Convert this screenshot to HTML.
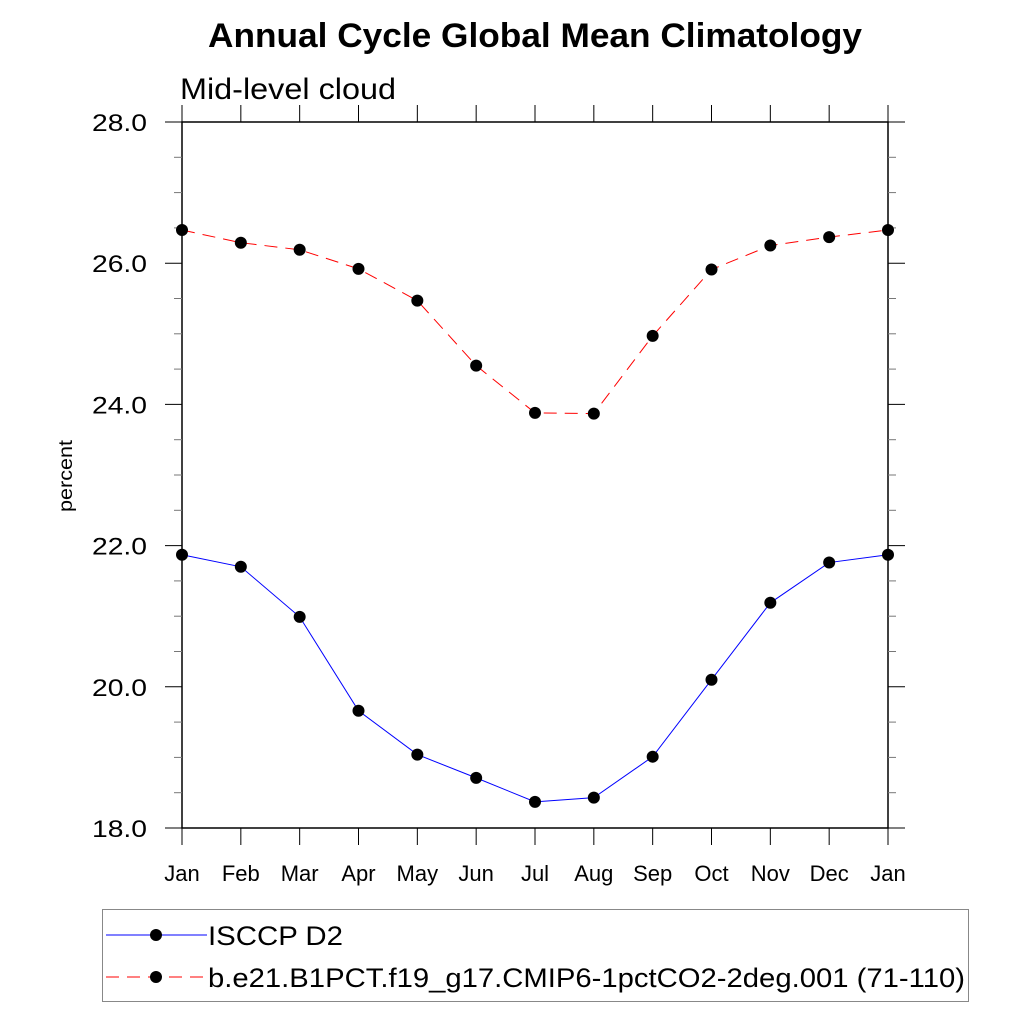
<!DOCTYPE html>
<html><head><meta charset="utf-8"><style>
body{margin:0;background:#fff;}
svg{display:block;font-family:"Liberation Sans",Arial,sans-serif;}
</style></head><body>
<svg id="chart" width="1024" height="1024" viewBox="0 0 1024 1024">
<text x="208" y="47" font-size="34" font-weight="bold" textLength="654" lengthAdjust="spacingAndGlyphs">Annual Cycle Global Mean Climatology</text>
<text x="180" y="99" font-size="30" textLength="216" lengthAdjust="spacingAndGlyphs">Mid-level cloud</text>
<text transform="translate(72,476) rotate(-90)" text-anchor="middle" font-size="19" textLength="72" lengthAdjust="spacingAndGlyphs">percent</text>
<g id="axes"></g>
<g id="series"></g>
<rect x="102.5" y="909.5" width="866" height="92" fill="none" stroke="#888" stroke-width="1"/>
<g>
<line x1="106" y1="935" x2="207" y2="935" stroke="#0000ff" stroke-width="1"/>
<circle cx="156" cy="935" r="6" fill="#000"/>
<text x="208" y="945" font-size="27" textLength="135" lengthAdjust="spacingAndGlyphs">ISCCP D2</text>
</g>
<g>
<line x1="106" y1="977" x2="207" y2="977" stroke="#ff0000" stroke-width="1" stroke-dasharray="13,8"/>
<circle cx="156" cy="977" r="6" fill="#000"/>
<text x="208" y="987" font-size="27" textLength="757" lengthAdjust="spacingAndGlyphs">b.e21.B1PCT.f19_g17.CMIP6-1pctCO2-2deg.001 (71-110)</text>
</g>
</svg>
<script>
const months = ["Jan","Feb","Mar","Apr","May","Jun","Jul","Aug","Sep","Oct","Nov","Dec","Jan"];
const isccpValues = [21.87,21.70,20.99,19.66,19.04,18.71,18.37,18.43,19.01,20.10,21.19,21.76,21.87];
const modelValues = [26.47,26.29,26.19,25.92,25.47,24.55,23.88,23.87,24.97,25.91,26.25,26.37,26.47];
const yTicks = [18,20,22,24,26,28];
const yTickLabels = ["18.0","20.0","22.0","24.0","26.0","28.0"];

const NS="http://www.w3.org/2000/svg";
const X0=182,X1=888,Y0=828,Y1=122,YMIN=18,YMAX=28;
function xs(i){return X0+(X1-X0)*i/(months.length-1);}
function ys(v){return Y0-(v-YMIN)/(YMAX-YMIN)*(Y0-Y1);}
function mk(tag,attrs,parent){const e=document.createElementNS(NS,tag);for(const k in attrs)e.setAttribute(k,attrs[k]);parent.appendChild(e);return e;}
const axes=document.getElementById('axes');
let el;
el=mk('rect',{x:X0,y:Y1,width:X1-X0,height:Y0-Y1,fill:'none',stroke:'#000','stroke-width':1.5},axes);


months.forEach((m,i)=>{
  const x=xs(i);
  el=mk('line',{x1:x,y1:Y0,x2:x,y2:Y0+17,stroke:'#000','stroke-width':1},axes);
  
  
  el=mk('line',{x1:x,y1:Y1,x2:x,y2:Y1-17,stroke:'#000','stroke-width':1},axes);
  
  
  el=mk('text',{x:x,y:881,'text-anchor':'middle','font-size':22},axes);
  el.textContent=m;
  
  
});
for(let v=YMIN;v<=YMAX+1e-9;v+=0.5){
  const y=ys(v);
  const major=Math.abs(v-Math.round(v/2)*2)<1e-9;
  const len=major?17:8;
  el=mk('line',{x1:X0-len,y1:y,x2:X0,y2:y,stroke:major?'#000':'#777','stroke-width':1},axes);
  
  
  el=mk('line',{x1:X1,y1:y,x2:X1+len,y2:y,stroke:major?'#000':'#777','stroke-width':1},axes);
  
  
}
yTicks.forEach((v,i)=>{
  el=mk('text',{x:92,y:ys(v)+9,'font-size':24,textLength:55,lengthAdjust:'spacingAndGlyphs'},axes);
  el.textContent=yTickLabels[i];
  
  
});
const series=document.getElementById('series');
function draw(vals,color,dash,name){
  const pts=vals.map((v,i)=>xs(i)+','+ys(v)).join(' ');
  el=mk('polyline',{points:pts,fill:'none',stroke:color,'stroke-width':1,'stroke-dasharray':dash},series);
  
  
  vals.forEach((v,i)=>{
    el=mk('circle',{cx:xs(i),cy:ys(v),r:6,fill:'#000'},series);
    
    
  });
}
draw(isccpValues,'#0000ff','none','isccp');
draw(modelValues,'#ff0000','13,8','model');
</script>
</body></html>
